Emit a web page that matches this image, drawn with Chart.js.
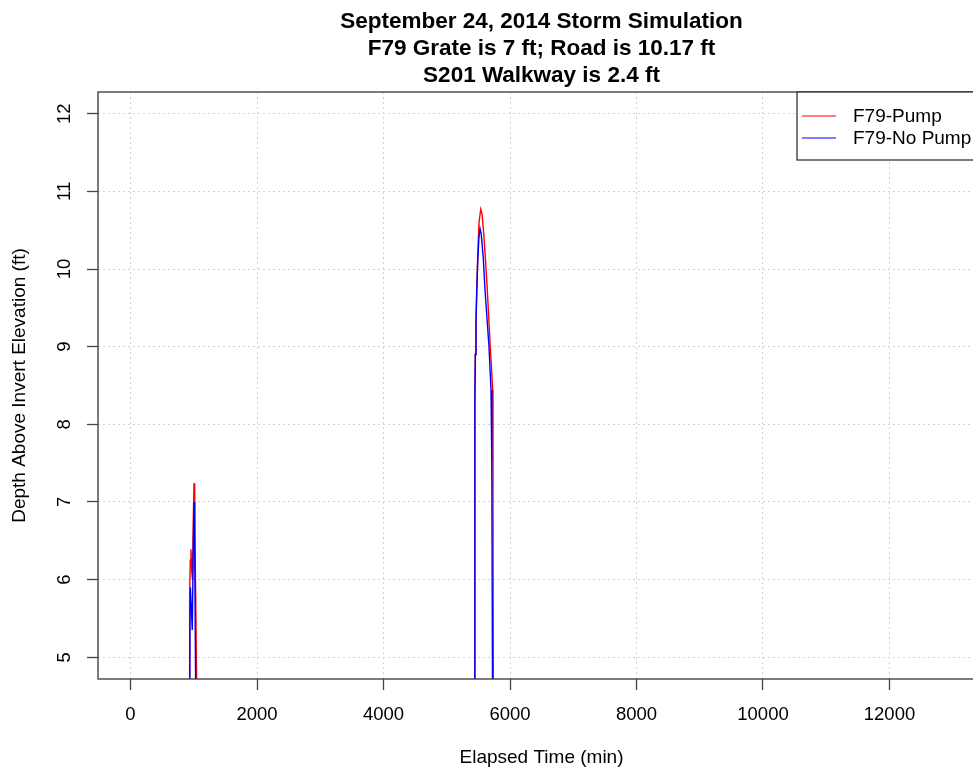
<!DOCTYPE html>
<html>
<head>
<meta charset="utf-8">
<script src="https://cdn.jsdelivr.net/npm/chart.js@4.4.1/dist/chart.umd.min.js"></script>
<style>
  html, body { margin: 0; padding: 0; background: #fff; overflow: hidden; }
  #wrap { width: 1000px; height: 770px; }
</style>
</head>
<body>
<div id="wrap"><canvas id="stormChart"></canvas></div>
<script>
// data
const timePump = [0, 900, 930, 935, 945, 956, 968, 980, 993, 1004, 1015, 1030, 1047, 1080,
  5400, 5438, 5442, 5446, 5452, 5462, 5474, 5489, 5510, 5537, 5560, 5585, 5610, 5641, 5688, 5727, 5731, 5736, 5770, 12800];
const depthPump = [3.1, 3.3, 4.5, 5.8, 6.25, 6.39, 6.1, 6.0, 6.8, 7.24, 6.8, 5.8, 4.6, 3.5,
  3.6, 4.6, 7.0, 8.3, 8.9, 9.3, 9.73, 10.15, 10.6, 10.77, 10.7, 10.45, 10.15, 9.73, 9.0, 8.44, 7.0, 4.6, 3.5, 3.0];

const timeNoPump = [0, 900, 937, 941, 947, 958, 977, 990, 1004, 1015, 1030, 1060,
  5400, 5438, 5442, 5446, 5452, 5462, 5474, 5490, 5508, 5526, 5545, 5577, 5605, 5668, 5700, 5712, 5724, 5760, 12800];
const depthNoPump = [3.1, 3.3, 4.5, 5.6, 5.9, 5.7, 5.35, 6.3, 7.0, 6.4, 4.6, 3.5,
  3.6, 4.6, 7.0, 8.3, 8.9, 9.3, 9.7, 10.1, 10.4, 10.52, 10.45, 10.15, 9.73, 9.0, 8.44, 7.5, 4.6, 3.5, 3.0];

const xTicks = [0, 2000, 4000, 6000, 8000, 10000, 12000];
const yTicks = [5, 6, 7, 8, 9, 10, 11, 12];

const titleLines = ['September 24, 2014 Storm Simulation', 'F79 Grate is 7 ft; Road is 10.17 ft', 'S201 Walkway is 2.4 ft'];

const FONT = '"Liberation Sans", Arial, sans-serif';

function toPoints(xs, ys) {
    return xs.map((x, i) => ({ x: x, y: ys[i] }));
}

// titre, étiquettes y tournées, cadre et légende
const rPlot = {
    id: 'rPlot',
    afterDraw(chart) {
        const ctx = chart.ctx;
        const a = chart.chartArea;
        const yScale = chart.scales.y;
        ctx.save();

        // titre
        ctx.fillStyle = '#000';
        ctx.font = 'bold 22.5px ' + FONT;
        ctx.textAlign = 'center';
        ctx.textBaseline = 'alphabetic';
        const cx = (a.left + a.right) / 2;
        titleLines.forEach((t, i) => ctx.fillText(t, cx, 27.5 + i * 27));

        // étiquettes de l'axe y
        ctx.font = '18.5px ' + FONT;
        ctx.textBaseline = 'middle';
        yScale.ticks.forEach(t => {
            const py = yScale.getPixelForValue(t.value);
            ctx.save();
            ctx.translate(65, py);
            ctx.rotate(-Math.PI / 2);
            ctx.fillText(String(t.value), 0, 0);
            ctx.restore();
        });

        // cadre
        ctx.strokeStyle = '#444';
        ctx.lineWidth = 1.4;
        ctx.strokeRect(a.left, a.top, a.right - a.left, a.bottom - a.top);

        // légende
        const lx = a.right - 188, ly = a.top;
        ctx.fillStyle = '#fff';
        ctx.fillRect(lx, ly, 200, 68);
        ctx.strokeStyle = '#222';
        ctx.lineWidth = 1.2;
        ctx.strokeRect(lx, ly, 200, 68);
        ctx.font = '19px ' + FONT;
        ctx.textAlign = 'left';
        chart.data.datasets.forEach((ds, i) => {
            const yy = ly + 24 + i * 22;
            ctx.strokeStyle = ds.borderColor;
            ctx.lineWidth = 1.2;
            ctx.beginPath();
            ctx.moveTo(lx + 5, yy);
            ctx.lineTo(lx + 39, yy);
            ctx.stroke();
            ctx.fillStyle = '#000';
            ctx.fillText(ds.label, lx + 56, yy + 1);
        });
        ctx.restore();
    }
};

const ctx = document.getElementById('stormChart').getContext('2d');
const stormChart = new Chart(ctx, {
    type: 'line',
    data: {
        datasets: [
            {
                label: 'F79-Pump',
                data: toPoints(timePump, depthPump),
                borderColor: '#FF0000',
                borderWidth: 1.4,
                pointRadius: 0,
                tension: 0,
                fill: false,
                order: 1
            },
            {
                label: 'F79-No Pump',
                data: toPoints(timeNoPump, depthNoPump),
                borderColor: '#0000FF',
                borderWidth: 1.4,
                pointRadius: 0,
                tension: 0,
                fill: false,
                order: 0
            }
        ]
    },
    options: {
        responsive: true,
        maintainAspectRatio: false,
        animation: false,
        devicePixelRatio: 1,
        layout: { padding: { top: 92, right: 15, left: 0, bottom: 0 } },
        plugins: {
            legend: { display: false },
            title: { display: false },
            tooltip: { enabled: false }
        },
        scales: {
            x: {
                type: 'linear',
                min: -514,
                max: 13510,
                afterBuildTicks: s => { s.ticks = xTicks.map(v => ({ value: v })); },
                afterFit: s => { s.height = 91; },
                grid: {
                    color: '#d3d3d3',
                    lineWidth: 1,
                    tickColor: '#444',
                    tickLength: 11,
                    tickWidth: 1.3
                },
                border: { display: false, dash: [2, 3] },
                ticks: {
                    color: '#000',
                    font: { family: FONT, size: 18.5 },
                    padding: 14,
                    maxRotation: 0,
                    autoSkip: false,
                    callback: v => String(v)
                },
                title: {
                    display: true,
                    text: 'Elapsed Time (min)',
                    color: '#000',
                    font: { family: FONT, size: 19 },
                    padding: { top: 0, bottom: 1 }
                }
            },
            y: {
                min: 4.72,
                max: 12.28,
                afterBuildTicks: s => { s.ticks = yTicks.map(v => ({ value: v })); },
                afterFit: s => { s.width = 98; },
                grid: {
                    color: '#d3d3d3',
                    lineWidth: 1,
                    tickColor: '#444',
                    tickLength: 11,
                    tickWidth: 1.3
                },
                border: { display: false, dash: [2, 3] },
                ticks: { display: false },
                title: {
                    display: true,
                    text: 'Depth Above Invert Elevation (ft)',
                    color: '#000',
                    font: { family: FONT, size: 19 },
                    padding: { top: 8, bottom: 0 }
                }
            }
        }
    },
    plugins: [rPlot]
});
</script>
</body>
</html>
